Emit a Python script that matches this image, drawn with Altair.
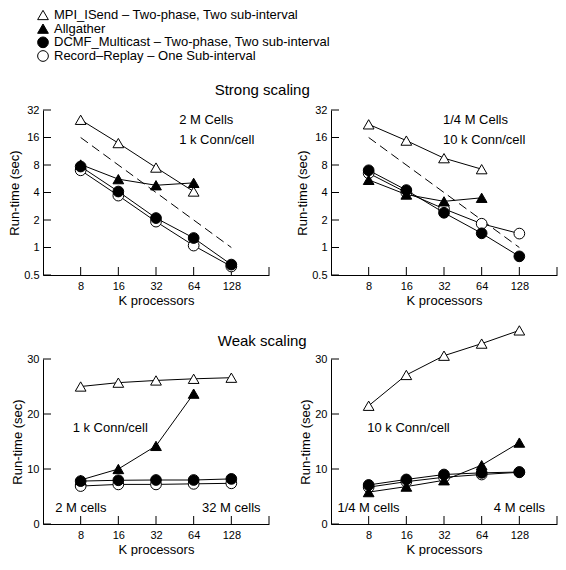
import altair as alt
import pandas as pd

# ---------------- data ----------------
K = [8, 16, 32, 64, 128]
SERIES = [
    "MPI_ISend – Two-phase, Two sub-interval",
    "Allgather",
    "DCMF_Multicast – Two-phase, Two sub-interval",
    "Record–Replay – One Sub-interval",
]
SHAPES = ["triangle-up", "triangle-up", "circle", "circle"]
FILLS = ["white", "black", "black", "white"]
SIZES = [115, 115, 95, 95]
DRAW_ORDER = [0, 3, 1, 2]

# Strong scaling, 2 M cells, 1 k Conn/cell
s1_mpi = [25.0, 13.9, 7.5, 4.1]
s1_allg = [8.1, 5.6, 4.8, 5.1]
s1_dcmf = [7.7, 4.1, 2.1, 1.27, 0.65]
s1_rr = [7.0, 3.7, 1.92, 1.05, 0.62]

# Strong scaling, 1/4 M cells, 10 k Conn/cell
s2_mpi = [22.3, 14.8, 9.5, 7.2]
s2_allg = [5.5, 3.8, 3.2, 3.5]
s2_dcmf = [7.0, 4.25, 2.4, 1.43, 0.8]
s2_rr = [6.5, 4.0, 2.65, 1.82, 1.42]

# ideal (dashed) scaling line
IDEAL_K = [8, 128]
IDEAL_T = [16, 1]

# Weak scaling, 1 k Conn/cell
w1_mpi = [25.0, 25.7, 26.1, 26.4, 26.6]
w1_allg = [8.0, 10.0, 14.2, 23.7]
w1_dcmf = [7.8, 7.95, 8.0, 8.0, 8.2]
w1_rr = [6.9, 7.2, 7.2, 7.3, 7.4]

# Weak scaling, 10 k Conn/cell
w2_mpi = [21.5, 27.1, 30.6, 32.8, 35.2]
w2_allg = [5.8, 6.8, 7.95, 10.7, 14.8]
w2_dcmf = [7.1, 8.1, 9.0, 9.3, 9.45]
w2_rr = [6.7, 7.7, 8.5, 9.0, 9.4]

X_TICKS = [8, 16, 32, 64, 128]
X_TICK_MARKS = [8, 16, 32, 64, 128, 256]
LOG_Y_TICKS = [0.5, 1, 2, 4, 8, 16, 32]
LIN_Y_TICKS = [0, 10, 20, 30]

ANN_S1 = [("2 M Cells", 49, 22.3), ("1 k Conn/cell", 49, 13.7)]
ANN_S2 = [("1/4 M Cells", 31.4, 22.3), ("10 k Conn/cell", 31.4, 13.7)]
ANN_W1 = [("1 k Conn/cell", 6.9, 16.8), ("2 M cells", 5.0, 2.27), ("32 M cells", 74.6, 2.27)]
ANN_W2 = [("10 k Conn/cell", 7.8, 16.8), ("1/4 M cells", 4.5, 2.27), ("4 M cells", 80, 2.27)]

# ---------------- layout ----------------
W = 226
H = 165
FONT = "Liberation Sans"

shape_scale = alt.Scale(domain=SERIES, range=SHAPES)
fill_scale = alt.Scale(domain=SERIES, range=FILLS)
size_scale = alt.Scale(domain=SERIES, range=SIZES)


def panel(vals, log, annots, ideal=False, section=None):
    rows = []
    for i in DRAW_ORDER:
        for k, v in zip(K, vals[i]):
            rows.append({"k": k, "t": v, "series": SERIES[i]})
    df = pd.DataFrame(rows)

    xscale = alt.Scale(type="log", domain=[4, 256])
    if log:
        yscale = alt.Scale(type="log", domain=[0.5, 32])
        yticks = LOG_Y_TICKS
        yfmt = "~g"
    else:
        yscale = alt.Scale(type="linear", domain=[0, 30], nice=False, zero=True)
        yticks = LIN_Y_TICKS
        yfmt = "d"

    xax = alt.Axis(values=X_TICKS, ticks=False, tickSize=0, grid=False, format="d",
                   labelFontSize=11, labelPadding=5, title="K processors",
                   titleFontSize=13, titleFontWeight="normal", titlePadding=3,
                   domainColor="black", labelColor="black", titleColor="black",
                   labelFont=FONT, titleFont=FONT)
    yax = alt.Axis(values=yticks, ticks=False, tickSize=0, grid=False, format=yfmt,
                   labelFontSize=11, labelPadding=4, title="Run-time (sec)",
                   titleFontSize=13, titleFontWeight="normal", titlePadding=2,
                   domainColor="black", labelColor="black", titleColor="black",
                   labelFont=FONT, titleFont=FONT)

    X = alt.X("k:Q", scale=xscale, axis=xax)
    Y = alt.Y("t:Q", scale=yscale, axis=yax)

    layers = []
    layers.append(
        alt.Chart(pd.DataFrame({"k": X_TICK_MARKS})).mark_rule(color="black", strokeWidth=1)
        .encode(x=X, y=alt.value(H), y2=alt.value(H - 8))
    )
    layers.append(
        alt.Chart(pd.DataFrame({"t": yticks})).mark_rule(color="black", strokeWidth=1)
        .encode(y=Y, x=alt.value(0), x2=alt.value(8))
    )
    if ideal:
        layers.append(
            alt.Chart(pd.DataFrame({"k": IDEAL_K, "t": IDEAL_T}))
            .mark_line(color="black", strokeWidth=1, strokeDash=[9, 5])
            .encode(x=X, y=Y)
        )
    layers.append(
        alt.Chart(df).mark_line(color="black", strokeWidth=1)
        .encode(x=X, y=Y, detail="series:N")
    )
    layers.append(
        alt.Chart(df).mark_point(filled=True, stroke="black", strokeWidth=1, opacity=1)
        .encode(
            x=X, y=Y,
            shape=alt.Shape("series:N", scale=shape_scale, legend=None),
            fill=alt.Fill("series:N", scale=fill_scale, legend=None),
            size=alt.Size("series:N", scale=size_scale, legend=None),
        )
    )
    adf = pd.DataFrame({"txt": [a[0] for a in annots],
                        "k": [a[1] for a in annots],
                        "t": [a[2] for a in annots]})
    layers.append(
        alt.Chart(adf).mark_text(align="left", baseline="alphabetic", fontSize=13,
                                 font=FONT, color="black")
        .encode(x=X, y=Y, text="txt:N")
    )
    if section is not None:
        txt, yoff = section
        layers.append(
            alt.Chart(pd.DataFrame({"txt": [txt]}))
            .mark_text(align="center", baseline="alphabetic", fontSize=15, font=FONT,
                       color="black")
            .encode(text="txt:N", x=alt.value(W * 0.97), y=alt.value(yoff))
        )
    return alt.layer(*layers)


# legend block (drawn above the first panel, own point scale for the rows)
leg_df = pd.DataFrame({"series": SERIES})
leg_y = alt.Y("series:N", sort=SERIES,
              scale=alt.Scale(type="point", padding=0, range=[-95, -54]), axis=None)
leg_pts = alt.Chart(leg_df).mark_point(filled=True, stroke="black", strokeWidth=1, opacity=1).encode(
    y=leg_y, x=alt.value(0),
    shape=alt.Shape("series:N", scale=shape_scale, legend=None),
    fill=alt.Fill("series:N", scale=fill_scale, legend=None),
    size=alt.Size("series:N", scale=size_scale, legend=None),
)
leg_txt = alt.Chart(leg_df).mark_text(align="left", baseline="middle", fontSize=13,
                                      font=FONT, color="black").encode(
    y=leg_y, x=alt.value(11), text="series:N")
legend = alt.layer(leg_pts, leg_txt)

tl = alt.layer(
    panel([s1_mpi, s1_allg, s1_dcmf, s1_rr], True, ANN_S1, ideal=True,
          section=("Strong scaling", -15)),
    legend,
).resolve_scale(y="independent").properties(width=W, height=H)
tr = panel([s2_mpi, s2_allg, s2_dcmf, s2_rr], True, ANN_S2, ideal=True).properties(width=W, height=H)
bl = panel([w1_mpi, w1_allg, w1_dcmf, w1_rr], False, ANN_W1,
           section=("Weak scaling", -13)).properties(width=W, height=H)
br = panel([w2_mpi, w2_allg, w2_dcmf, w2_rr], False, ANN_W2).properties(width=W, height=H)

chart = alt.concat(
    tl, tr, bl, br, columns=2, spacing={"row": 84, "column": 62}, bounds="flush"
).resolve_scale(x="independent", y="independent").properties(
    padding={"left": 0, "right": 0, "top": 0, "bottom": 0},
    autosize=alt.AutoSizeParams(type="pad"),
).configure_view(stroke=None)

chart.save("out.html", embed_options={"renderer": "svg", "actions": False})
